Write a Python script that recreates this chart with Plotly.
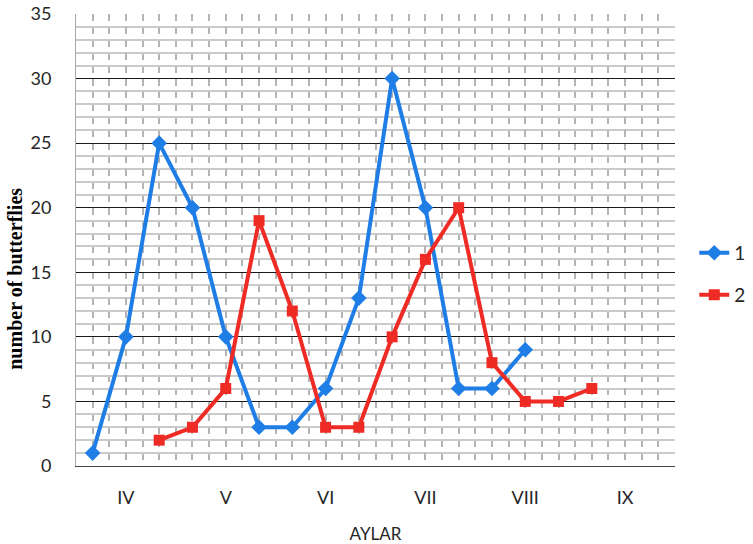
import plotly.graph_objects as go

months = ["IV", "V", "VI", "VII", "VIII", "IX"]
month_pos = [1, 4, 7, 10, 13, 16]
points = list(range(18))
series1 = [1, 10, 25, 20, 10, 3, 3, 6, 13, 30, 20, 6, 6, 9, None, None, None, None]
series2 = [None, None, 2, 3, 6, 19, 12, 3, 3, 10, 16, 20, 8, 5, 5, 6, None, None]

BLUE = "#1f7de6"
RED = "#ee2b25"
FONT = "Lato"

fig = go.Figure()
fig.add_trace(go.Scatter(x=points, y=series1, name="1", mode="lines+markers",
                         line=dict(color=BLUE, width=4),
                         marker=dict(symbol="diamond", size=12, color=BLUE),
                         showlegend=True, legend="legend"))
fig.add_trace(go.Scatter(x=points, y=series2, name="2", mode="lines+markers",
                         line=dict(color=RED, width=4),
                         marker=dict(symbol="square", size=11, color=RED),
                         showlegend=True, legend="legend2"))

fig.update_layout(
    width=753, height=544,
    margin=dict(l=76, r=78, t=14, b=78, autoexpand=False),
    paper_bgcolor="white", plot_bgcolor="white",
    showlegend=True,
    font=dict(family=FONT, size=18, color="#262626"),
    legend=dict(xref="container", yref="container", x=0.922, y=0.535,
                xanchor="left", yanchor="middle",
                font=dict(size=19, family=FONT, color="#262626")),
    legend2=dict(xref="container", yref="container", x=0.922, y=0.4577,
                 xanchor="left", yanchor="middle",
                 font=dict(size=19, family=FONT, color="#262626")),
    xaxis=dict(range=[-0.5, 17.5], tickmode="array", tickvals=month_pos, ticktext=months,
               automargin=False,
               showgrid=True, gridcolor="#b4b4b4", gridwidth=1.5, griddash="7px,5.9px",
               minor=dict(tickmode="linear", tick0=-0.5, dtick=0.5, showgrid=True,
                          gridcolor="#b4b4b4", gridwidth=1.5, griddash="7px,5.9px"),
               showline=True, linecolor="#444444", linewidth=1,
               ticks="", ticklabelstandoff=15, zeroline=False,
               title=dict(text="AYLAR", font=dict(size=17, family=FONT), standoff=28)),
    yaxis=dict(range=[0, 35], tickmode="linear", tick0=0, dtick=5,
               automargin=False,
               showgrid=True, gridcolor="#1a1a1a", gridwidth=1,
               minor=dict(tickmode="linear", tick0=0, dtick=1, showgrid=True,
                          gridcolor="#cacaca", gridwidth=1.5),
               showline=True, linecolor="#a8a8a8", linewidth=1,
               ticks="", ticklabelstandoff=20, zeroline=False),
)

fig.add_annotation(text="<b>number of butterflies</b>", xref="paper", yref="paper",
                   x=-0.102, y=0.414, xanchor="center", yanchor="middle",
                   textangle=-90, showarrow=False,
                   font=dict(family="Liberation Serif", size=20, color="black"))

fig.write_html("out.html")
